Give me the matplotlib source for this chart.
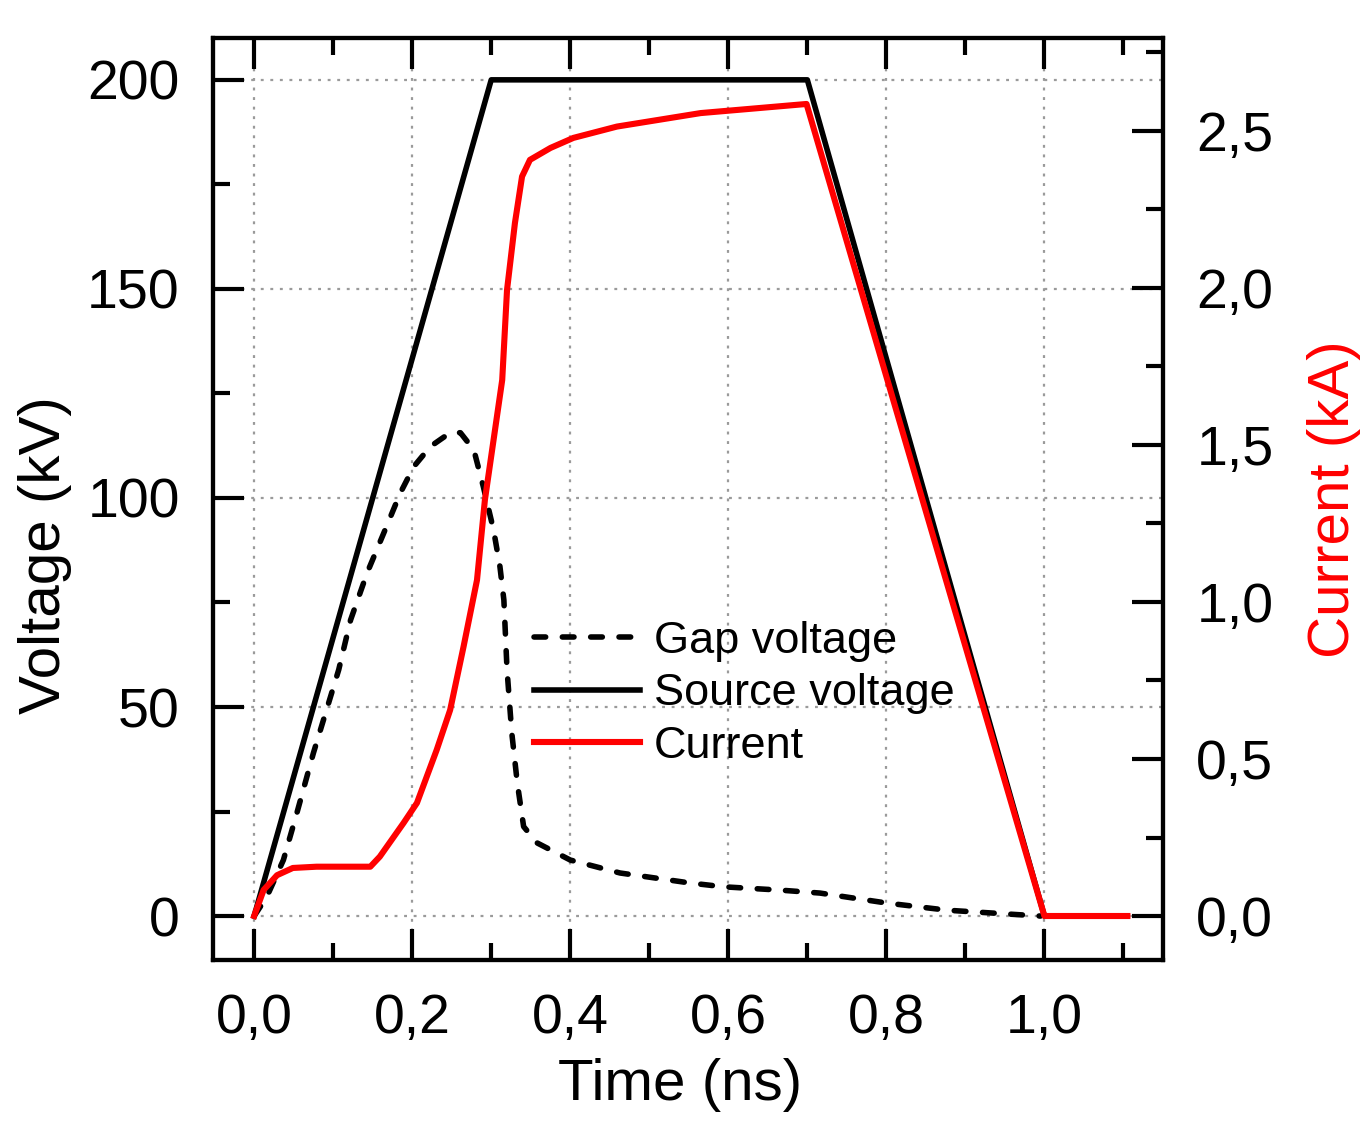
import matplotlib
matplotlib.use("Agg")
import matplotlib.pyplot as plt
from matplotlib.ticker import MultipleLocator

plt.rcParams['font.family'] = ['Liberation Sans', 'DejaVu Sans']

# ---- data ----
source_t = [0.0, 0.3, 0.7, 1.0, 1.1]
source_v = [0.0, 200.0, 200.0, 0.0, 0.0]

gap_t = [0.0, 0.016, 0.037, 0.054, 0.075, 0.107, 0.122, 0.143, 0.164, 0.185,
         0.202, 0.223, 0.248, 0.261, 0.278, 0.290, 0.303, 0.311, 0.316, 0.320,
         0.326, 0.333, 0.341, 0.358, 0.400, 0.463, 0.552, 0.594, 0.666, 0.716,
         0.801, 0.877, 0.995]
gap_v = [0.0, 4.6, 13.4, 24.6, 39.0, 58.9, 70.8, 82.1, 91.6, 101.2,
         107.5, 112.3, 115.6, 115.6, 111.5, 102.7, 92.3, 83.6, 75.6, 58.9,
         43.8, 31.8, 21.4, 17.5, 13.4, 10.3, 7.9, 7.0, 6.2, 5.5,
         3.1, 1.4, 0.0]

cur_t = [0.0, 0.012, 0.029, 0.049, 0.079, 0.147, 0.159, 0.189, 0.206, 0.231,
         0.248, 0.265, 0.282, 0.292, 0.3139, 0.320, 0.330, 0.339, 0.349,
         0.375, 0.404, 0.459, 0.565, 0.699, 1.0, 1.105]
cur_i = [0.0, 0.083, 0.130, 0.153, 0.157, 0.157, 0.189, 0.296, 0.360, 0.529,
         0.656, 0.858, 1.070, 1.325, 1.707, 1.994, 2.207, 2.355, 2.408,
         2.446, 2.478, 2.514, 2.557, 2.586, 0.0, 0.0]

x_ticks = [0.0, 0.2, 0.4, 0.6, 0.8, 1.0]
x_labels = ["0,0", "0,2", "0,4", "0,6", "0,8", "1,0"]
v_ticks = [0, 50, 100, 150, 200]
v_labels = ["0", "50", "100", "150", "200"]
i_ticks = [0.0, 0.5, 1.0, 1.5, 2.0, 2.5]
i_labels = ["0,0", "0,5", "1,0", "1,5", "2,0", "2,5"]

# ---- figure ----
fig = plt.figure(figsize=(13.64, 11.42), dpi=100)
ax = fig.add_axes([0.1562, 0.1594, 0.6964, 0.8073])
ax2 = ax.twinx()

ax.set_xlim(-0.052, 1.15)
ax.set_ylim(-10.5, 210.0)
ax2.set_ylim(-0.14, 2.796)

ax.grid(True, which='major', color='#9a9a9a', linewidth=1.6,
        linestyle=(0, (1.3, 3.0)))
ax.set_axisbelow(True)

l_gap, = ax.plot(gap_t, gap_v, color='black', lw=4.0,
                 linestyle=(0, (2.1, 3.0)), dash_capstyle='round',
                 solid_joinstyle='round', label='Gap voltage')
l_src, = ax.plot(source_t, source_v, color='black', lw=4.0,
                 label='Source voltage')
l_cur, = ax2.plot(cur_t, cur_i, color='#ff0000', lw=4.4, label='Current',
                  solid_joinstyle='round')

fs_tick = 40
ax.set_xticks(x_ticks, x_labels)
ax.set_yticks(v_ticks, v_labels)
ax2.set_yticks(i_ticks, i_labels)
ax.xaxis.set_minor_locator(MultipleLocator(0.1))
ax.yaxis.set_minor_locator(MultipleLocator(25))
ax2.yaxis.set_minor_locator(MultipleLocator(0.25))

for a in (ax, ax2):
    for s in a.spines.values():
        s.set_linewidth(3.0)

ax.tick_params(axis='both', which='major', direction='in', length=22,
               width=3.0, labelsize=fs_tick, pad=24, top=True, right=False)
ax.tick_params(axis='both', which='minor', direction='in', length=12,
               width=3.0, top=True, right=False)
ax2.tick_params(axis='y', which='major', direction='in', length=22,
                width=3.0, labelsize=fs_tick, pad=24)
ax2.tick_params(axis='y', which='minor', direction='in', length=12, width=3.0)

ax.set_xlabel("Time (ns)", fontsize=42)
ax.xaxis.set_label_coords(0.4916, -0.106)
ax.set_ylabel("Voltage (kV)", fontsize=42)
ax.yaxis.set_label_coords(-0.149, 0.439)
ax2.set_ylabel("Current (kA)", fontsize=42, color='#ff0000', labelpad=24)

leg = ax.legend(handles=[l_gap, l_src, l_cur], loc='upper left',
                bbox_to_anchor=(0.338, 0.368), frameon=False, fontsize=32.5,
                handlelength=2.35, handletextpad=0.3, labelspacing=0.26,
                borderpad=0, borderaxespad=0)

fig.savefig("out.png", dpi=100)
